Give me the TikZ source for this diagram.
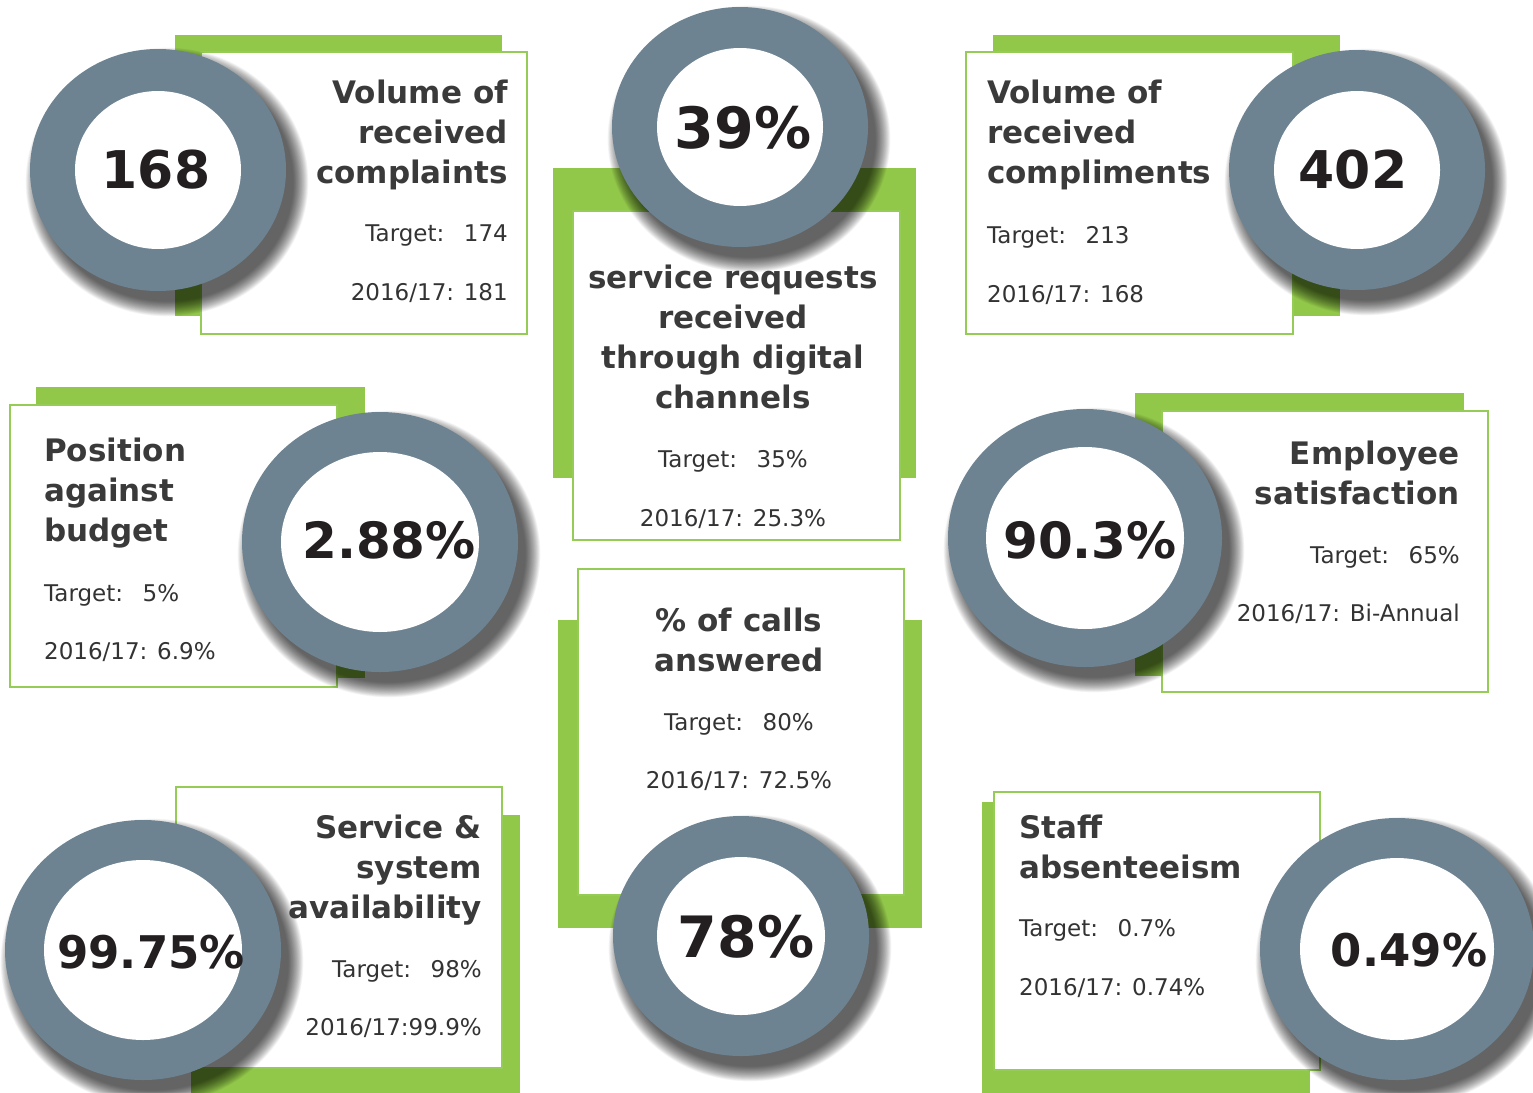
\documentclass[tikz,border=0pt]{standalone}
\usepackage{fontspec}
\setmainfont{DejaVu Sans}
\definecolor{ringc}{HTML}{6D8392}
\definecolor{lgreen}{HTML}{92C84A}
\definecolor{bgreen}{HTML}{95CC55}
\definecolor{titlec}{HTML}{3A3A3A}
\definecolor{bodyc}{HTML}{333333}
\definecolor{numc}{HTML}{231F20}
\tikzset{
  backbar/.style={fill=lgreen, draw=none},
  card/.style={fill=white, draw=bgreen, line width=2.8pt},
  ttl/.style={font=\bfseries\fontsize{31}{40}\selectfont, text=titlec, inner sep=0pt},
  bodytxt/.style={font=\fontsize{23}{28}\selectfont, text=bodyc, inner sep=0pt},
  bignum/.style={font=\bfseries\fontsize{#1}{#1}\selectfont, text=numc, inner sep=0pt},
}
\newcommand\tl{\vphantom{Tl}}
\newcommand\tgap{\hspace{0.85em}}
% cx, cy, rx outer, ry outer, rx inner, ry inner
\newcommand\kpiring[6]{%
  \foreach \k in {1,...,24}{
    \fill[black, opacity=0.035] (#1+9,#2+12) ellipse [x radius=#3+14-0.65*\k, y radius=#4+14-0.65*\k];
  }
  \fill[ringc] (#1,#2) ellipse [x radius=#3, y radius=#4];
  \fill[white] (#1,#2) ellipse [x radius=#5, y radius=#6];
}
\begin{document}
\begin{tikzpicture}[x=1pt,y=-1pt]
\useasboundingbox (0,0) rectangle (1533,1092);
\clip (0,0) rectangle (1533,1092);
\fill[white] (0,0) rectangle (1533,1092);

% Panel 1
\fill[backbar] (175,35) rectangle (502,316);
\draw[card] (201,52) rectangle (527,334);
\kpiring{158}{170}{128}{121}{83}{79}
\node[bignum=52] (n1) at (156,170) {168};
\node[ttl, anchor=north east, align=right] (t1) at (508,80) {\tl Volume of\\received\\complaints};
\node[bodytxt, anchor=base east] (a1) at (508,241) {Target:\tgap 174};
\node[bodytxt, anchor=base east] (b1) at (508,300) {2016/17: 181};

% Panel 2
\fill[backbar] (553,168) rectangle (916,478);
\draw[card] (573,211) rectangle (900,540);
\kpiring{740}{127}{128}{120}{83}{79}
\node[bignum=57] (n2) at (743,128) {39\%};
\node[ttl, anchor=north, align=center] (t2) at (733,265) {\tl service requests\\received\\through digital\\channels};
\node[bodytxt, anchor=base] (a2) at (733,467) {Target:\tgap 35\%};
\node[bodytxt, anchor=base] (b2) at (733,526) {2016/17: 25.3\%};

% Panel 3
\fill[backbar] (993,35) rectangle (1340,316);
\draw[card] (966,52) rectangle (1293,334);
\kpiring{1357}{170}{128}{120}{83}{79}
\node[bignum=52] (n3) at (1353,170) {402};
\node[ttl, anchor=north west, align=left] (t3) at (987,80) {\tl Volume of\\received\\compliments};
\node[bodytxt, anchor=base west] (a3) at (987,243) {Target:\tgap 213};
\node[bodytxt, anchor=base west] (b3) at (987,302) {2016/17: 168};

% Panel 4
\fill[backbar] (36,387) rectangle (365,678);
\draw[card] (10,405) rectangle (337,687);
\kpiring{380}{542}{138}{130}{99}{90}
\node[bignum=50] (n4) at (389,540) {2.88\%};
\node[ttl, anchor=north west, align=left] (t4) at (44,438) {\tl Position\\against\\budget};
\node[bodytxt, anchor=base west] (a4) at (44,601) {Target:\tgap 5\%};
\node[bodytxt, anchor=base west] (b4) at (44,659) {2016/17: 6.9\%};

% Panel 5
\fill[backbar] (1135,393) rectangle (1464,676);
\draw[card] (1162,411) rectangle (1488,692);
\kpiring{1085}{538}{137}{129}{99}{91}
\node[bignum=50] (n5) at (1090,540) {90.3\%};
\node[ttl, anchor=north east, align=right] (t5) at (1460,441) {\tl Employee\\satisfaction};
\node[bodytxt, anchor=base east] (a5) at (1460,563) {Target:\tgap 65\%};
\node[bodytxt, anchor=base east] (b5) at (1460,621) {2016/17: Bi-Annual};

% Panel 6
\fill[backbar] (558,620) rectangle (922,928);
\draw[card] (578,569) rectangle (904,895);
\kpiring{741}{936}{128}{120}{84}{79}
\node[bignum=57] (n6) at (746,937) {78\%};
\node[ttl, anchor=north, align=center] (t6) at (739,608) {\tl \% of calls\\answered};
\node[bodytxt, anchor=base] (a6) at (739,730) {Target:\tgap 80\%};
\node[bodytxt, anchor=base] (b6) at (739,788) {2016/17: 72.5\%};

% Panel 7
\fill[backbar] (191,815) rectangle (520,1100);
\draw[card] (176,787) rectangle (502,1068);
\kpiring{143}{950}{138}{130}{99}{90}
\node[bignum=45] (n7) at (151,952) {99.75\%};
\node[ttl, anchor=north east, align=right] (t7) at (482,815) {\tl Service \&\\system\\availability};
\node[bodytxt, anchor=base east] (a7) at (482,977) {Target:\tgap 98\%};
\node[bodytxt, anchor=base east] (b7) at (482,1035) {2016/17:99.9\%};

% Panel 8
\fill[backbar] (982,802) rectangle (1310,1100);
\draw[card] (994,792) rectangle (1320,1070);
\kpiring{1397}{949}{137}{131}{97}{91}
\node[bignum=45] (n8) at (1409,950) {0.49\%};
\node[ttl, anchor=north west, align=left] (t8) at (1019,815) {\tl Staff\\absenteeism};
\node[bodytxt, anchor=base west] (a8) at (1019,936) {Target:\tgap 0.7\%};
\node[bodytxt, anchor=base west] (b8) at (1019,995) {2016/17: 0.74\%};
\end{tikzpicture}
\end{document}
